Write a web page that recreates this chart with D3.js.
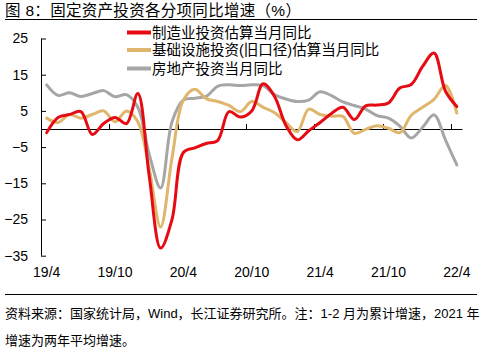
<!DOCTYPE html>
<html><head><meta charset="utf-8">
<script src="https://cdn.jsdelivr.net/npm/d3@7"></script>
<style>
body{margin:0;background:#fff;}
text{font-family:"Liberation Sans",Arial,"Noto Sans CJK SC",sans-serif;fill:#000;}
</style></head>
<body>
<svg id="c" width="486" height="353"></svg>
<script>
const months = ["19/4","19/5","19/6","19/7","19/8","19/9","19/10","19/11","19/12","20/1","20/2","20/3",
"20/4","20/5","20/6","20/7","20/8","20/9","20/10","20/11","20/12","21/1","21/2","21/3",
"21/4","21/5","21/6","21/7","21/8","21/9","21/10","21/11","21/12","22/1","22/2","22/3","22/4"];
const tickLabels = ["19/4","19/10","20/4","20/10","21/4","21/10","22/4"];
const yTicks = [25,15,5,-5,-15,-25,-35];
const manufacturing = [-1.0,3.2,4.0,4.8,-1.5,1.5,3.2,1.5,9.8,-13,-32.9,-25,
 -6.5,-5.2,-4.0,-3.2,4.8,3.3,5.0,12.5,9.0,1.0,-3.0,-0.5,
 1.8,4.3,6.0,2.6,6.4,6.6,7.2,11.3,12.3,17.3,21.0,10.5,6.2];
const infrastructure = [3.0,1.8,4.0,3.0,4.0,5.0,2.0,5.0,2.0,-11,-27.1,-8,
 8.0,11.0,8.4,7.6,6.5,4.8,7.6,6.0,4.5,1.8,-0.7,5.5,
 4.0,3.5,3.5,-1.2,-0.1,0.9,0.2,-1.0,3.8,6.0,8.2,12.0,4.4];
const realEstate = [12.2,9.3,10.0,9.0,9.8,10.6,8.9,9.5,6.0,-7,-16.3,2.0,
 8.0,8.5,9.0,11.8,12.2,12.0,12.2,12.0,9.5,8.3,7.6,8.0,
 10.3,9.2,7.5,6.5,5.5,3.7,3.0,0.8,-2.5,0.5,3.9,-3.0,-9.9];
const seriesNames = ["制造业投资估算当月同比","基础设施投资(旧口径)估算当月同比","房地产投资当月同比"];
const colors = ["#E60A12","#DFB66C","#A6A6A6"];
const title = "图 8：固定资产投资各分项同比增速（%）";
const note1 = "资料来源：国家统计局，Wind，长江证券研究所。注：1-2 月为累计增速，2021 年";
const note2 = "增速为两年平均增速。";

const svg = d3.select("#c");
const x = d3.scaleBand().domain(months).range([41,462.5]).paddingInner(0).paddingOuter(0);
const y = d3.scaleLinear().domain([-35,25]).range([255.7,38.5]);
const cx = m => x(m) + x.bandwidth()/2;

// title
svg.append("text").attr("x",5).attr("y",15.5).attr("font-size",15.5).attr("letter-spacing",0.3).text(title);
svg.append("line").attr("x1",5).attr("x2",477).attr("y1",19.5).attr("y2",19.5).attr("stroke","#000").attr("stroke-width",1);
svg.append("line").attr("x1",5).attr("x2",477).attr("y1",294.5).attr("y2",294.5).attr("stroke","#000").attr("stroke-width",1);
svg.append("text").attr("x",5).attr("y",318).attr("font-size",13).text(note1);
svg.append("text").attr("x",5).attr("y",345).attr("font-size",13).text(note2);

// y axis
const ya = svg.append("g").attr("transform","translate(41,0)")
  .call(d3.axisLeft(y).tickValues(yTicks).tickSizeInner(-5).tickSizeOuter(0).tickPadding(13).tickFormat(d3.format("d")));
ya.selectAll("text").attr("font-size",14).attr("fill","#000").attr("font-family",null);
ya.selectAll("path,line").attr("stroke","#000");
ya.select(".domain").attr("d","M0.5,"+y(25)+"V"+y(-35));

// zero line
svg.append("line").attr("x1",41).attr("x2",462.5).attr("y1",Math.round(y(0))+0.5).attr("y2",Math.round(y(0))+0.5).attr("stroke","#000");
svg.selectAll(".zt").data(tickLabels).join("line").attr("class","zt")
  .attr("x1",d=>Math.round(x(d))+0.5).attr("x2",d=>Math.round(x(d))+0.5)
  .attr("y1",Math.round(y(0))+0.5).attr("y2",Math.round(y(0))-5).attr("stroke","#000");

// x labels
const xa = svg.append("g").attr("transform","translate(0,262)")
  .call(d3.axisBottom(x).tickValues(tickLabels).tickSize(0).tickPadding(5));
xa.select(".domain").remove();
xa.selectAll("text").attr("font-size",14).attr("fill","#000").attr("font-family",null);

// lines
const data = [manufacturing, infrastructure, realEstate];
const line = d3.line().x((d,i)=>cx(months[i])).y(d=>y(d)).curve(d3.curveCatmullRom.alpha(0.5));
[2,1,0].forEach(k=>{
  svg.append("path").attr("d",line(data[k])).attr("fill","none").attr("stroke",colors[k])
    .attr("stroke-width",3).attr("stroke-linejoin","round").attr("stroke-linecap","round");
});

// legend
const ly = [32.5,50,68.5];
seriesNames.forEach((n,k)=>{
  svg.append("line").attr("x1",127).attr("x2",151).attr("y1",ly[k]).attr("y2",ly[k])
    .attr("stroke",colors[k]).attr("stroke-width",4);
  svg.append("text").attr("x",152).attr("y",ly[k]+5).attr("font-size",14.5).text(n);
});
</script>
</body></html>
